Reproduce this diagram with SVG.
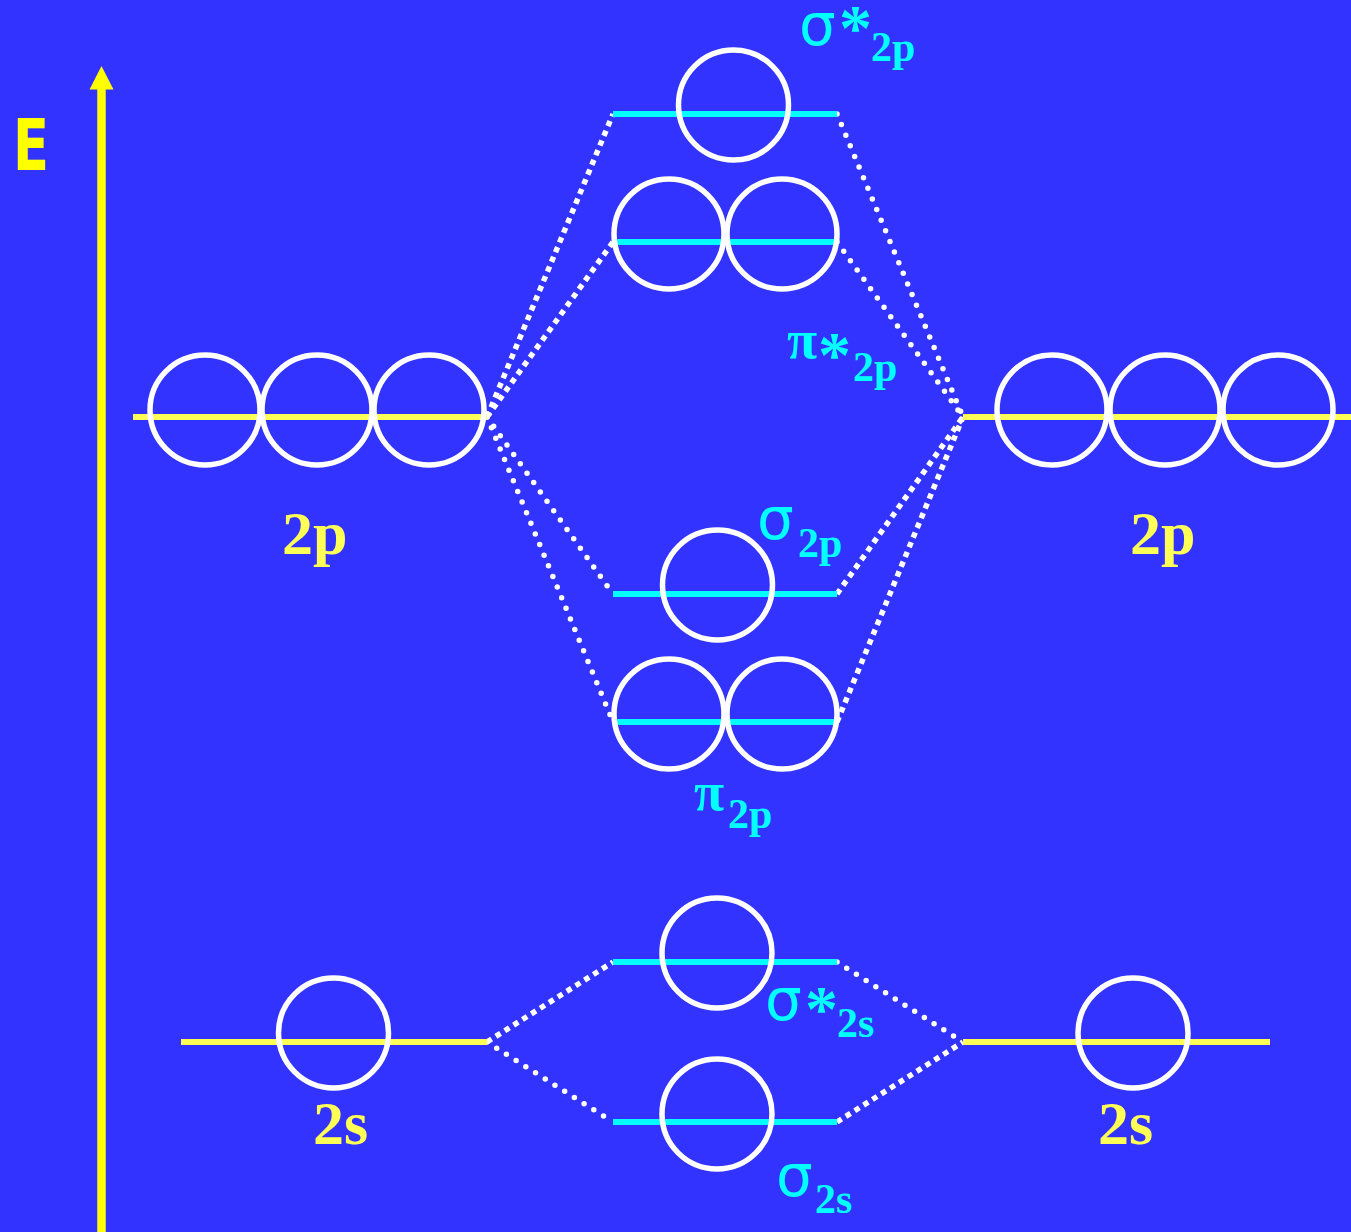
<svg xmlns="http://www.w3.org/2000/svg" width="1351" height="1232" viewBox="0 0 1351 1232">
  <defs>
    <style>
      .orb { fill: none; stroke: #FFFFFF; stroke-width: 5.5; }
      .ao { stroke: #FFFF55; stroke-width: 6; }
      .mo { stroke: #00FFFF; stroke-width: 6; }
      .sq { fill: none; stroke: #FFFFFF; stroke-width: 5.5; stroke-dasharray: 5.5 5; stroke-linecap: butt; }
      .rd { fill: none; stroke: #FFFFFF; stroke-width: 5.5; stroke-dasharray: 0 11.5; stroke-linecap: round; }
      .lbl { font-family: "Liberation Serif", "Times New Roman", serif; font-weight: bold; fill: #FFFF55; font-size: 62px; }
      .mol { font-family: "Liberation Serif", "Times New Roman", serif; font-weight: bold; fill: #00FFFF; }
      .sig { font-family: "DejaVu Sans", sans-serif; font-weight: normal; font-size: 58px; }
      .pi { font-size: 55px; }
      .ast { font-size: 66px; }
      .sub { font-size: 42px; }
    </style>
  </defs>

  <rect x="0" y="0" width="1351" height="1232" fill="#3333FF"/>

  <!-- energy axis -->
  <g id="axis">
    <line x1="101.5" y1="1232" x2="101.5" y2="86" stroke="#FFFF00" stroke-width="8.5"/>
    <polygon points="101.5,66 89.5,89.5 113.5,89.5" fill="#FFFF00"/>
    <text x="13" y="170" font-family="'Comic Sans MS', 'DejaVu Sans', sans-serif" font-weight="bold" font-size="72" fill="#FFFF00" textLength="36" lengthAdjust="spacingAndGlyphs">E</text>
  </g>

  <!-- connectors: correlation lines between atomic and molecular levels -->
  <g id="connectors">
    <line class="sq" x1="487" y1="417" x2="613" y2="114"/>
    <line class="sq" x1="487" y1="417" x2="613" y2="242"/>
    <line class="rd" x1="487" y1="417" x2="613" y2="594"/>
    <line class="rd" x1="487" y1="417" x2="613" y2="722"/>
    <line class="rd" x1="837" y1="114" x2="963" y2="417"/>
    <line class="rd" x1="837" y1="242" x2="963" y2="417"/>
    <line class="sq" x1="837" y1="594" x2="963" y2="417"/>
    <line class="sq" x1="837" y1="722" x2="963" y2="417"/>
    <line class="sq" x1="487" y1="1042" x2="613" y2="962"/>
    <line class="rd" x1="487" y1="1042" x2="613" y2="1122"/>
    <line class="rd" x1="837" y1="962" x2="963" y2="1042"/>
    <line class="sq" x1="837" y1="1122" x2="963" y2="1042"/>
  </g>

  <!-- left atom 2p -->
  <g id="left-2p">
    <line class="ao" x1="133" y1="417" x2="487" y2="417"/>
    <circle class="orb" cx="205" cy="410" r="55"/>
    <circle class="orb" cx="317" cy="410" r="55"/>
    <circle class="orb" cx="429" cy="410" r="55"/>
    <text class="lbl" x="282" y="554">2p</text>
  </g>

  <!-- right atom 2p -->
  <g id="right-2p">
    <line class="ao" x1="963" y1="417" x2="1351" y2="417"/>
    <circle class="orb" cx="1052" cy="410" r="55"/>
    <circle class="orb" cx="1165" cy="410" r="55"/>
    <circle class="orb" cx="1278" cy="410" r="55"/>
    <text class="lbl" x="1130" y="554">2p</text>
  </g>

  <!-- left atom 2s -->
  <g id="left-2s">
    <line class="ao" x1="181" y1="1042" x2="487" y2="1042"/>
    <circle class="orb" cx="333.5" cy="1033" r="55"/>
    <text class="lbl" x="313" y="1144">2s</text>
  </g>

  <!-- right atom 2s -->
  <g id="right-2s">
    <line class="ao" x1="963" y1="1042" x2="1270" y2="1042"/>
    <circle class="orb" cx="1133" cy="1033" r="55"/>
    <text class="lbl" x="1098" y="1144">2s</text>
  </g>

  <!-- sigma* 2p -->
  <g id="sigma-star-2p">
    <line class="mo" x1="613" y1="114" x2="837" y2="114"/>
    <circle class="orb" cx="733.5" cy="105" r="55"/>
    <text class="mol"><tspan class="sig" x="799" y="45">σ</tspan><tspan class="ast" x="839" y="50">*</tspan><tspan class="sub" x="871" y="61">2p</tspan></text>
  </g>

  <!-- pi* 2p -->
  <g id="pi-star-2p">
    <line class="mo" x1="613" y1="242" x2="837" y2="242"/>
    <circle class="orb" cx="669" cy="234" r="55"/>
    <circle class="orb" cx="782" cy="234" r="55"/>
    <text class="mol"><tspan class="pi" x="787" y="358">π</tspan><tspan class="ast" x="818" y="377">*</tspan><tspan class="sub" x="853" y="381">2p</tspan></text>
  </g>

  <!-- sigma 2p -->
  <g id="sigma-2p">
    <line class="mo" x1="613" y1="594" x2="837" y2="594"/>
    <circle class="orb" cx="717.5" cy="585" r="55"/>
    <text class="mol"><tspan class="sig" x="757" y="539">σ</tspan><tspan class="sub" x="798" y="557">2p</tspan></text>
  </g>

  <!-- pi 2p -->
  <g id="pi-2p">
    <line class="mo" x1="613" y1="722" x2="837" y2="722"/>
    <circle class="orb" cx="669" cy="714" r="55"/>
    <circle class="orb" cx="782" cy="714" r="55"/>
    <text class="mol"><tspan class="pi" x="694" y="810">π</tspan><tspan class="sub" x="728" y="828">2p</tspan></text>
  </g>

  <!-- sigma* 2s -->
  <g id="sigma-star-2s">
    <line class="mo" x1="613" y1="962" x2="837" y2="962"/>
    <circle class="orb" cx="717" cy="953" r="55"/>
    <text class="mol"><tspan class="sig" x="765" y="1020">σ</tspan><tspan class="ast" x="805" y="1031">*</tspan><tspan class="sub" x="837" y="1037">2s</tspan></text>
  </g>

  <!-- sigma 2s -->
  <g id="sigma-2s">
    <line class="mo" x1="613" y1="1122" x2="837" y2="1122"/>
    <circle class="orb" cx="717" cy="1114" r="55"/>
    <text class="mol"><tspan class="sig" x="776" y="1196">σ</tspan><tspan class="sub" x="815" y="1213">2s</tspan></text>
  </g>
</svg>
